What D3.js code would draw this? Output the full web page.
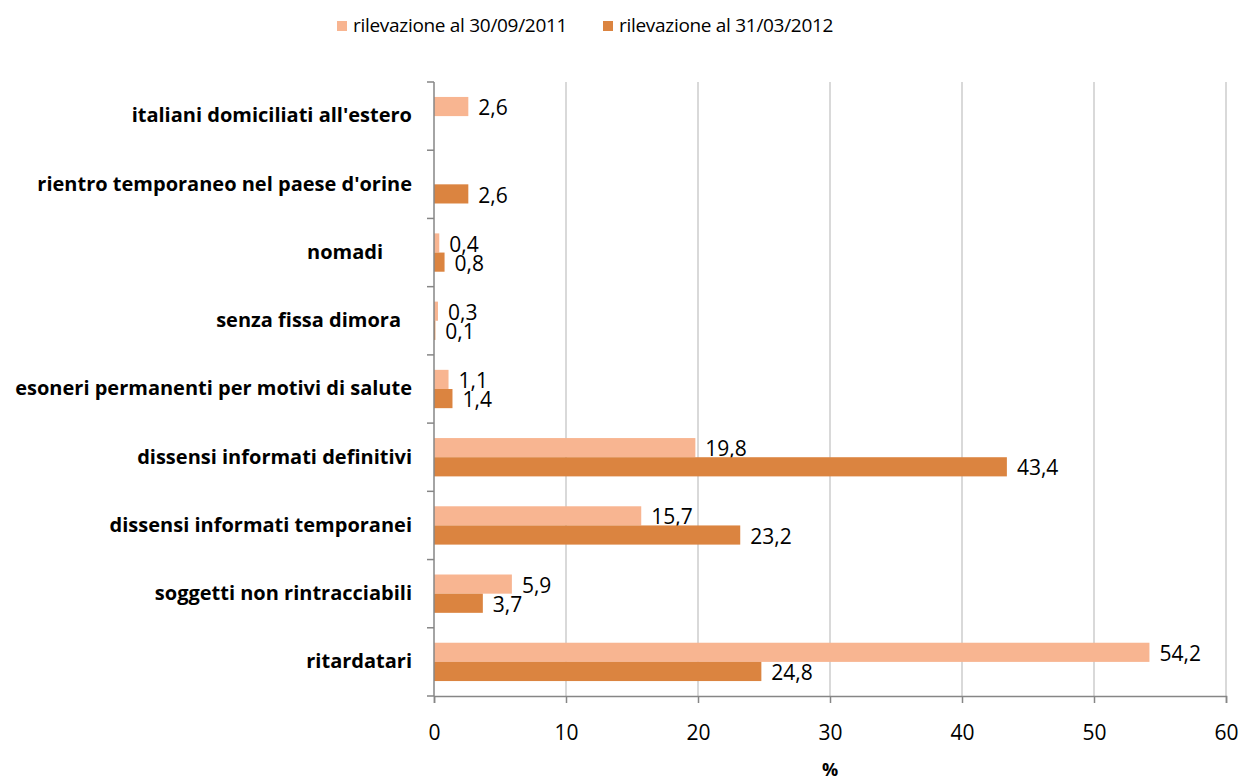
<!DOCTYPE html>
<html lang="it">
<head>
    <meta charset="UTF-8">
    <title>Rilevazioni</title>
    <script src="https://d3js.org/d3.v7.min.js"></script>
    <style>
        body { margin: 0; background: #fff; }
        text { font-family: "Open Sans", Lato, sans-serif; fill: #000; }
    </style>
</head>
<body>
    <div id="chart"></div>

    <script>
        // Data
        const categories = [
            "italiani domiciliati all'estero",
            "rientro temporaneo nel paese d'orine",
            "nomadi",
            "senza fissa dimora",
            "esoneri permanenti per motivi di salute",
            "dissensi informati definitivi",
            "dissensi informati temporanei",
            "soggetti non rintracciabili",
            "ritardatari"
        ];
        const seriesNames = ["rilevazione al 30/09/2011", "rilevazione al 31/03/2012"];
        const values2011 = [2.6, null, 0.4, 0.3, 1.1, 19.8, 15.7, 5.9, 54.2];
        const values2012 = [null, 2.6, 0.8, 0.1, 1.4, 43.4, 23.2, 3.7, 24.8];
        const xTicks = [0, 10, 20, 30, 40, 50, 60];
        // trailing blanks in the source labels
        const labelPadding = [0, 0, 29, 11, 0, 0, 0, 0, 0];

        const colors = ["#F8B591", "#DB8440"];

        const width = 1242;
        const height = 783;
        const margin = { top: 82, right: 16, bottom: 87, left: 434 };

        const svg = d3.select("#chart")
            .append("svg")
            .attr("width", width)
            .attr("height", height);

        const x = d3.scaleLinear()
            .domain([0, 60])
            .range([margin.left, width - margin.right]);

        const y = d3.scaleBand()
            .domain(categories)
            .range([margin.top, height - margin.bottom]);

        const inner = d3.scaleBand()
            .domain([0, 1])
            .range([0, y.bandwidth()])
            .paddingOuter(0.78);

        // vertical gridlines
        svg.append("g")
            .selectAll("line")
            .data(xTicks.slice(1))
            .join("line")
            .attr("x1", d => x(d))
            .attr("x2", d => x(d))
            .attr("y1", margin.top)
            .attr("y2", height - margin.bottom)
            .attr("stroke", "#B3B3B3")
            .attr("stroke-width", 1);

        // bars
        const series = [values2011, values2012];
        series.forEach((vals, s) => {
            const rows = categories.map((c, i) => ({ c, v: vals[i] })).filter(d => d.v != null);
            const g = svg.append("g");
            g.selectAll("rect")
                .data(rows)
                .join("rect")
                .attr("x", x(0))
                .attr("y", d => y(d.c) + inner(s))
                .attr("width", d => x(d.v) - x(0))
                .attr("height", inner.bandwidth())
                .attr("fill", colors[s]);
            g.selectAll("text")
                .data(rows)
                .join("text")
                .attr("x", d => x(d.v) + 10)
                .attr("y", d => y(d.c) + inner(s) + inner.bandwidth() / 2 + 3)
                .attr("dominant-baseline", "middle")
                .style("font-size", "21px")
                .text(d => String(d.v).replace(".", ","));
        });

        // x axis
        const xAxis = svg.append("g")
            .attr("transform", `translate(0,${height - margin.bottom})`)
            .call(d3.axisBottom(x).tickValues(xTicks).tickSize(7).tickPadding(22).tickFormat(d => d));
        xAxis.select(".domain").attr("stroke", "#868686").attr("stroke-width", 1.5);
        xAxis.selectAll(".tick line").attr("stroke", "#868686").attr("stroke-width", 1.5);
        xAxis.selectAll("text").style("font-size", "21px").style("font-family", "'Open Sans', Lato, sans-serif");

        // y axis (ticks at band edges)
        const yAxisG = svg.append("g");
        yAxisG.append("line")
            .attr("x1", x(0)).attr("x2", x(0))
            .attr("y1", margin.top).attr("y2", height - margin.bottom)
            .attr("stroke", "#868686").attr("stroke-width", 1.5);
        const edges = categories.map(c => y(c)).concat([height - margin.bottom]);
        yAxisG.selectAll("line.tk")
            .data(edges)
            .join("line")
            .attr("class", "tk")
            .attr("x1", x(0) - 7).attr("x2", x(0))
            .attr("y1", d => d).attr("y2", d => d)
            .attr("stroke", "#868686").attr("stroke-width", 1.5);
        yAxisG.selectAll("text")
            .data(categories)
            .join("text")
            .attr("x", (d, i) => x(0) - 22 - labelPadding[i])
            .attr("y", d => y(d) + y.bandwidth() / 2 + 1)
            .attr("text-anchor", "end")
            .attr("dominant-baseline", "middle")
            .style("font-size", "20px")
            .style("font-weight", "bold")
            .text(d => d);

        // axis title
        svg.append("text")
            .attr("x", (x(0) + x(60)) / 2)
            .attr("y", 771)
            .attr("text-anchor", "middle")
            .attr("dominant-baseline", "middle")
            .style("font-size", "18px")
            .style("font-weight", "bold")
            .text("%");

        // legend
        const legendX = [337, 603];
        const legend = svg.append("g");
        seriesNames.forEach((name, i) => {
            legend.append("rect")
                .attr("x", legendX[i]).attr("y", 21)
                .attr("width", 10).attr("height", 10)
                .attr("fill", colors[i]);
            legend.append("text")
                .attr("x", legendX[i] + 16)
                .attr("y", 27)
                .attr("dominant-baseline", "middle")
                .style("font-size", "19px")
                .style("letter-spacing", "-0.3px")
                .text(name);
        });
    </script>
</body>
</html>
